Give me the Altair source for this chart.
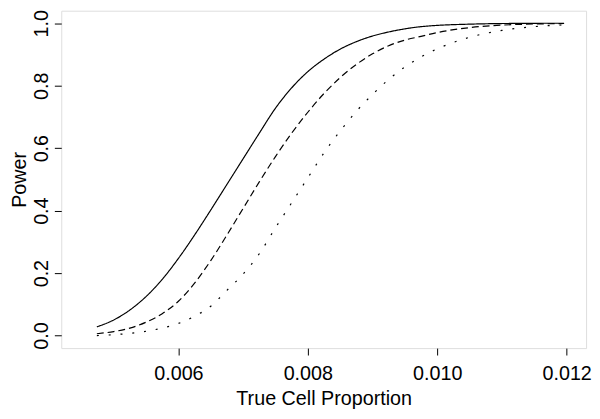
import altair as alt
import pandas as pd

# Curves
solid_x = [0.00474, 0.00500, 0.00525, 0.00550, 0.00575, 0.00600, 0.00625, 0.00650, 0.00675, 0.00700,
           0.00725, 0.00750, 0.00775, 0.00800, 0.00825, 0.00850, 0.00875, 0.00900, 0.00925, 0.00950,
           0.00975, 0.01000, 0.01050, 0.01100, 0.01196]
solid_y = [0.028, 0.050, 0.082, 0.125, 0.180, 0.247, 0.322, 0.402, 0.484, 0.566,
           0.648, 0.728, 0.793, 0.845, 0.885, 0.917, 0.941, 0.959, 0.972, 0.982,
           0.989, 0.993, 0.997, 0.999, 1.000]

dashed_x = [0.00474, 0.00500, 0.00525, 0.00550, 0.00575, 0.00600, 0.00625, 0.00650, 0.00675, 0.00700,
            0.00725, 0.00750, 0.00775, 0.00800, 0.00825, 0.00850, 0.00875, 0.00900, 0.00925, 0.00950,
            0.00975, 0.01000, 0.01050, 0.01100, 0.01196]
dashed_y = [0.006, 0.013, 0.024, 0.043, 0.070, 0.110, 0.168, 0.240, 0.322, 0.407,
            0.492, 0.573, 0.648, 0.715, 0.775, 0.826, 0.868, 0.902, 0.928, 0.946,
            0.958, 0.970, 0.986, 0.994, 0.999]

dotted_x = [0.00474, 0.00500, 0.00525, 0.00550, 0.00575, 0.00600, 0.00625, 0.00650, 0.00675, 0.00700,
            0.00725, 0.00750, 0.00775, 0.00800, 0.00825, 0.00850, 0.00875, 0.00900, 0.00925, 0.00950,
            0.00975, 0.01000, 0.01050, 0.01100, 0.01150, 0.01200]
dotted_y = [0.000, 0.003, 0.007, 0.014, 0.024, 0.039, 0.062, 0.094, 0.145, 0.197,
            0.262, 0.345, 0.425, 0.505, 0.585, 0.655, 0.718, 0.772, 0.820, 0.860,
            0.892, 0.918, 0.955, 0.977, 0.989, 0.995]

x_ticks = [0.006, 0.008, 0.010, 0.012]
y_ticks = [0.0, 0.2, 0.4, 0.6, 0.8, 1.0]

rows = []
for name, xs, ys in [("solid", solid_x, solid_y), ("dashed", dashed_x, dashed_y), ("dotted", dotted_x, dotted_y)]:
    for i, (a, b) in enumerate(zip(xs, ys)):
        rows.append({"series": name, "x": a, "y": b, "order": i})
df = pd.DataFrame(rows)

FONT = "Liberation Sans"
FS = 20

chart = alt.Chart(df).mark_line(interpolate="monotone", color="black", strokeWidth=1.2).encode(
    x=alt.X("x:Q",
            scale=alt.Scale(domain=[0.00419, 0.0123], nice=False, zero=False),
            axis=alt.Axis(values=x_ticks, format=".3f", title="True Cell Proportion",
                          domain=False, grid=False, tickColor="black", tickSize=7, tickWidth=1,
                          labelFont=FONT, labelFontSize=FS, labelColor="black", labelPadding=9,
                          labelFlush=False,
                          titleFont=FONT, titleFontSize=FS, titleFontWeight="normal", titleColor="black",
                          titleBaseline="alphabetic", titleY=57)),
    y=alt.Y("y:Q",
            scale=alt.Scale(domain=[-0.04, 1.04], nice=False, zero=False),
            axis=alt.Axis(values=y_ticks, format=".1f", title="Power",
                          domain=False, grid=False, tickColor="black", tickSize=7, tickWidth=1,
                          labelFont=FONT, labelFontSize=FS, labelColor="black", labelPadding=7,
                          labelAngle=270, labelAlign="center", labelBaseline="alphabetic",
                          labelFlush=False,
                          titleFont=FONT, titleFontSize=FS, titleFontWeight="normal", titleColor="black",
                          titleAngle=270, titleBaseline="alphabetic", titleAlign="center",
                          titleX=-36, titleY=171)),
    strokeDash=alt.StrokeDash("series:N",
                              scale=alt.Scale(domain=["solid", "dashed", "dotted"],
                                              range=[[1, 0], [7, 4], [2, 10]]),
                              legend=None),
    detail="series:N",
    order="order:Q",
).properties(
    width=532, height=342,
    autosize=alt.AutoSizeParams(type="none"),
    padding={"left": 54, "top": 0, "right": 6, "bottom": 61},
).configure_view(
    stroke="black", strokeWidth=1, fill="white"
).configure(background="white")

chart.save("out.html", embed_options={"renderer": "svg", "actions": False})
